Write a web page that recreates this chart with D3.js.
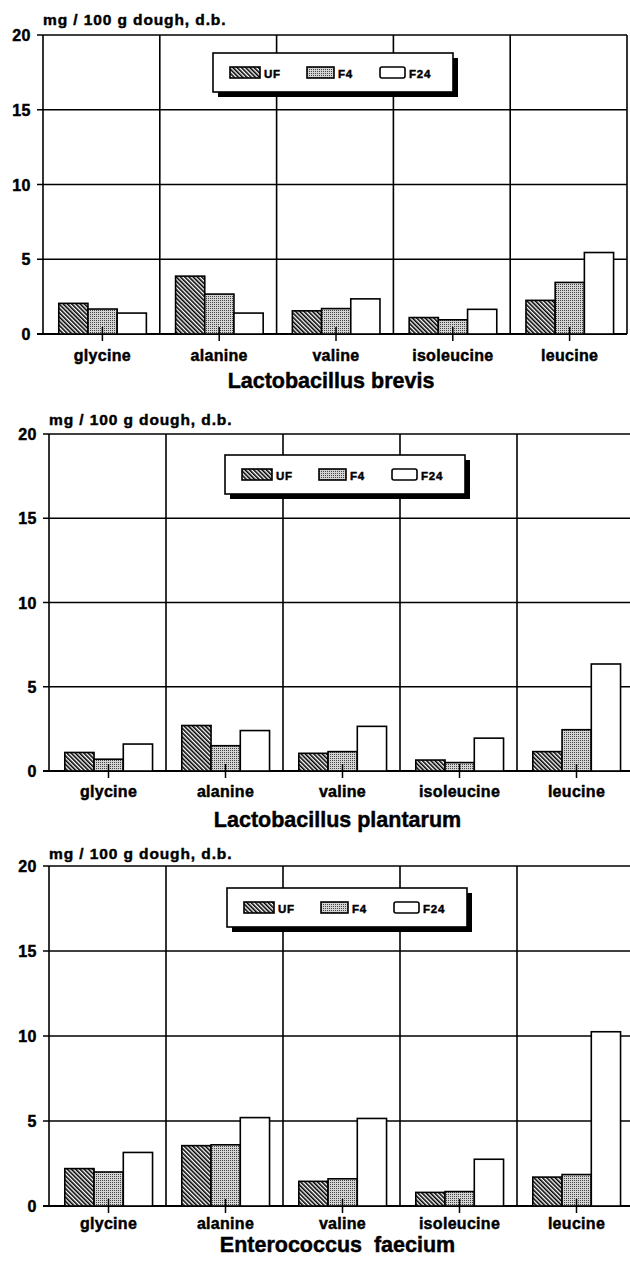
<!DOCTYPE html>
<html>
<head>
<meta charset="utf-8">
<style>
  body { margin: 0; background: #fff; }
  text { font-family: "Liberation Sans", Arial, sans-serif; font-weight: bold; fill: #000; stroke: #000; stroke-width: 0.45px; }
</style>
</head>
<body></body>
<script src="https://d3js.org/d3.v7.min.js"></script>
<script>

var categories = ["glycine", "alanine", "valine", "isoleucine", "leucine"];
var series = ["UF", "F4", "F24"];
var yTicks = [0, 5, 10, 15, 20];
var yTitle = "mg / 100 g dough, d.b.";

// values per organism, one array per series (UF, F4, F24)
var brevisUF   = [2.05, 3.87, 1.55, 1.10, 2.25];
var brevisF4   = [1.67, 2.67, 1.70, 0.95, 3.45];
var brevisF24  = [1.40, 1.40, 2.35, 1.65, 5.45];

var plantUF    = [1.10, 2.70, 1.05, 0.65, 1.15];
var plantF4    = [0.70, 1.50, 1.15, 0.50, 2.45];
var plantF24   = [1.60, 2.40, 2.65, 1.95, 6.35];

var faeciumUF  = [2.20, 3.55, 1.45, 0.80, 1.70];
var faeciumF4  = [2.00, 3.60, 1.60, 0.85, 1.85];
var faeciumF24 = [3.15, 5.20, 5.15, 2.75, 10.25];

var panels = [
  { title: "Lactobacillus brevis", values: [brevisUF, brevisF4, brevisF24],
    left: 43, right: 627, top: 35, bottom: 334, titleY: 25, catY: 361, nameY: 388, lx: 213, ly: 53 },
  { title: "Lactobacillus plantarum", values: [plantUF, plantF4, plantF24],
    left: 49, right: 634, top: 434, bottom: 771, titleY: 425, catY: 797, nameY: 827, lx: 225, ly: 455 },
  { title: "Enterococcus  faecium", values: [faeciumUF, faeciumF4, faeciumF24],
    left: 49, right: 634, top: 866, bottom: 1206, titleY: 859, catY: 1229, nameY: 1252, lx: 227, ly: 888 }
];

var W = 630, H = 1261;

var svg = d3.select("body").append("svg")
    .attr("width", W)
    .attr("height", H);

// fill patterns
var defs = svg.append("defs");
var hatch = defs.append("pattern")
    .attr("id", "hatch")
    .attr("patternUnits", "userSpaceOnUse")
    .attr("width", 3).attr("height", 3)
    .attr("patternTransform", "rotate(-45)");
hatch.append("rect").attr("width", 3).attr("height", 3).attr("fill", "#fff");
hatch.append("line")
    .attr("x1", 0.8).attr("y1", 0).attr("x2", 0.8).attr("y2", 3)
    .attr("stroke", "#000").attr("stroke-width", 1.6);

var dots = defs.append("pattern")
    .attr("id", "dots")
    .attr("patternUnits", "userSpaceOnUse")
    .attr("width", 2).attr("height", 2);
dots.append("rect").attr("width", 2).attr("height", 2).attr("fill", "#d4d4d4");
dots.append("rect").attr("width", 1).attr("height", 1).attr("fill", "#444");

var fills = { UF: "url(#hatch)", F4: "url(#dots)", F24: "#fff" };

panels.forEach(p => {

  var x0 = d3.scaleBand()
      .domain(categories)
      .range([p.left, p.right])
      .padding(0);

  var bw = x0.bandwidth();
  var x1 = d3.scaleBand()
      .domain(series)
      .range([bw * 0.135, bw * 0.885]);

  var y = d3.scaleLinear()
      .domain([0, 20])
      .range([p.bottom, p.top]);

  var g = svg.append("g");

  // horizontal grid + y tick marks
  g.append("g").selectAll("line")
      .data(yTicks)
    .enter().append("line")
      .attr("x1", p.left - 6)
      .attr("x2", p.right)
      .attr("y1", d => y(d))
      .attr("y2", d => y(d))
      .attr("stroke", "#000")
      .attr("stroke-width", d => d == 0 ? 2 : 1.6);

  // vertical dividers
  var edges = categories.map(c => x0(c)).concat([p.right]);
  g.append("g").selectAll("line")
      .data(edges)
    .enter().append("line")
      .attr("x1", d => d).attr("x2", d => d)
      .attr("y1", y(20)).attr("y2", y(0))
      .attr("stroke", "#000")
      .attr("stroke-width", 1.6);

  // tick labels
  g.append("g").selectAll("text")
      .data(yTicks)
    .enter().append("text")
      .attr("x", p.left - 12)
      .attr("y", d => y(d) + 6)
      .attr("text-anchor", "end")
      .attr("font-size", 16)
      .attr("letter-spacing", 0.5)
      .text(d => d);

  // y title
  g.append("text")
      .attr("x", p.left)
      .attr("y", p.titleY)
      .attr("font-size", 15.5)
      .attr("letter-spacing", 0.9)
      .text(yTitle);

  // bars
  var rows = [];
  categories.forEach((c, i) => {
    series.forEach((s, j) => rows.push({ cat: c, ser: s, v: p.values[j][i] }));
  });

  g.append("g").selectAll("rect")
      .data(rows)
    .enter().append("rect")
      .attr("x", d => x0(d.cat) + x1(d.ser))
      .attr("y", d => y(d.v))
      .attr("width", x1.bandwidth())
      .attr("height", d => y(0) - y(d.v))
      .attr("fill", d => fills[d.ser])
      .attr("stroke", "#000")
      .attr("stroke-width", 1.6);

  // small centre ticks
  g.append("g").selectAll("line")
      .data(categories)
    .enter().append("line")
      .attr("x1", d => x0(d) + bw / 2 + 1)
      .attr("x2", d => x0(d) + bw / 2 + 1)
      .attr("y1", y(0) - 7)
      .attr("y2", y(0) + 7)
      .attr("stroke", "#000")
      .attr("stroke-width", 1.5);

  // category labels
  g.append("g").selectAll("text")
      .data(categories)
    .enter().append("text")
      .attr("x", d => x0(d) + bw / 2 + 1)
      .attr("y", p.catY)
      .attr("text-anchor", "middle")
      .attr("font-size", 16)
      .attr("letter-spacing", 0.3)
      .text(d => d);

  // organism name
  g.append("text")
      .attr("x", (p.left + p.right) / 2 - 4)
      .attr("y", p.nameY)
      .attr("text-anchor", "middle")
      .attr("font-size", 21.5)
      .style("white-space", "pre")
      .text(p.title);

  // legend
  var lg = g.append("g")
      .attr("transform", "translate(" + p.lx + "," + p.ly + ")");
  lg.append("rect")
      .attr("x", 5).attr("y", 5)
      .attr("width", 240).attr("height", 39)
      .attr("fill", "#000");
  lg.append("rect")
      .attr("width", 240).attr("height", 39)
      .attr("fill", "#fff")
      .attr("stroke", "#000")
      .attr("stroke-width", 1.6);

  var sw = [{ s: "UF", x: 17, w: 30 }, { s: "F4", x: 94, w: 27 }, { s: "F24", x: 167, w: 25 }];
  lg.selectAll(".sw")
      .data(sw)
    .enter().append("rect")
      .attr("x", d => d.x).attr("y", 14)
      .attr("width", d => d.w).attr("height", 11)
      .attr("rx", d => d.s == "F24" ? 2 : 0)
      .attr("fill", d => fills[d.s])
      .attr("stroke", "#000")
      .attr("stroke-width", 1.6);
  lg.selectAll(".lt")
      .data(sw)
    .enter().append("text")
      .attr("x", d => d.x + d.w + 4)
      .attr("y", 24.5)
      .attr("font-size", 11.5)
      .attr("letter-spacing", 0.8)
      .text(d => d.s);
});

</script>
</html>
